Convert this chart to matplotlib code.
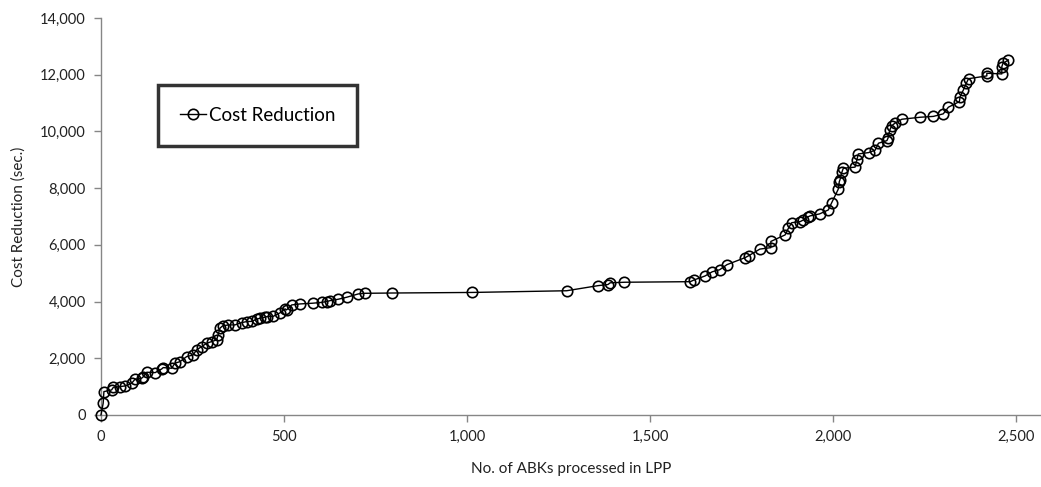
import numpy as np
import matplotlib.pyplot as plt
from matplotlib.ticker import FuncFormatter

plt.rcParams['font.family'] = ['Lato', 'DejaVu Sans']

# data
abks = [0, 6, 8, 29, 34, 52, 66, 84, 93, 111, 116, 125, 148, 166, 170, 193,
        202, 216, 234, 252, 261, 275, 289, 302, 316, 320, 325, 332, 348, 366,
        384, 398, 412, 425, 434, 448, 453, 471, 489, 503, 507, 521, 544, 578,
        603, 617, 626, 648, 671, 703, 721, 794, 1013, 1272, 1358, 1385, 1391,
        1430, 1610, 1620, 1650, 1670, 1690, 1710, 1760, 1770, 1800, 1830, 1830,
        1869, 1878, 1887, 1910, 1919, 1932, 1937, 1963, 1987, 1996, 2014, 2017,
        2019, 2024, 2028, 2060, 2065, 2069, 2097, 2115, 2124, 2147, 2150, 2155,
        2160, 2170, 2188, 2238, 2274, 2301, 2315, 2345, 2347, 2356, 2364, 2370,
        2420, 2420, 2461, 2461, 2464, 2479]
cost = [0, 412, 822, 882, 977, 1000, 1023, 1118, 1259, 1294, 1351, 1506, 1492,
        1623, 1669, 1646, 1823, 1881, 2057, 2116, 2293, 2410, 2528, 2586, 2646,
        2822, 3058, 3139, 3175, 3175, 3256, 3292, 3300, 3375, 3410, 3446, 3468,
        3480, 3600, 3740, 3704, 3880, 3915, 3940, 3970, 4000, 4032, 4080, 4150,
        4268, 4290, 4300, 4320, 4380, 4560, 4600, 4660, 4680, 4700, 4760, 4900,
        5050, 5120, 5300, 5550, 5620, 5850, 5900, 6120, 6350, 6585, 6780, 6818,
        6878, 6990, 7020, 7090, 7231, 7480, 7960, 8230, 8300, 8560, 8702, 8740,
        8995, 9206, 9253, 9340, 9584, 9676, 9760, 10050, 10200, 10300, 10430,
        10500, 10530, 10620, 10854, 11052, 11228, 11464, 11700, 11860, 11958,
        12052, 12028, 12286, 12400, 12520]

x_ticks = [0, 500, 1000, 1500, 2000, 2500]
y_ticks = list(range(0, 14001, 2000))

fig = plt.figure(figsize=(10.41, 4.87), dpi=100)
ax = fig.add_axes([0.097, 0.148, 0.903, 0.815])

ax.plot(abks, cost, color='black', lw=1.0, marker='o', markersize=7.5,
        markerfacecolor='none', markeredgecolor='black', markeredgewidth=1.2,
        label='Cost Reduction', clip_on=False, zorder=3)

ax.set_xlim(0, 2568)
ax.set_ylim(0, 14000)
ax.set_xticks(x_ticks)
ax.set_yticks(y_ticks)
fmt = FuncFormatter(lambda v, p: f"{int(v):,}")
ax.xaxis.set_major_formatter(fmt)
ax.yaxis.set_major_formatter(fmt)

for side in ['top', 'right']:
    ax.spines[side].set_visible(False)
for side in ['left', 'bottom']:
    ax.spines[side].set_color('#868686')
    ax.spines[side].set_linewidth(1.0)
ax.tick_params(axis='both', direction='out', length=5, width=1.0,
               color='#868686', labelsize=10.5, labelcolor='#222222', pad=6)

ax.set_xlabel("No. of ABKs processed in LPP", fontsize=11, labelpad=13,
              color='#222222')
ax.set_ylabel("Cost Reduction (sec.)", fontsize=11, labelpad=10,
              color='#222222')

leg = ax.legend(loc='upper left', bbox_to_anchor=(0.061, 0.83), fontsize=13.5,
                frameon=True, fancybox=False, borderpad=1.15, handlelength=1.4,
                handletextpad=0.15, borderaxespad=0)
leg.get_frame().set_edgecolor('black')
leg.get_frame().set_linewidth(2.5)

fig.savefig("out.png", dpi=100)
